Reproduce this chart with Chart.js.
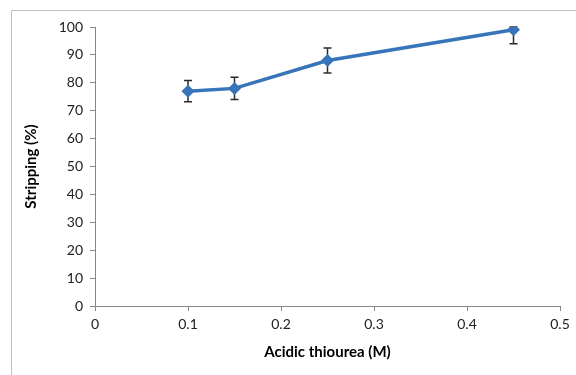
<!DOCTYPE html>
<html>
<head>
<meta charset="utf-8">
<script src="https://cdn.jsdelivr.net/npm/chart.js@4.4.1/dist/chart.umd.min.js"></script>
<style>
  html, body { margin: 0; padding: 0; background: #fff; }
  #wrap { width: 576px; height: 375px; position: relative; }
</style>
</head>
<body>
<div id="wrap"><canvas id="c" width="576" height="375"></canvas></div>
<script>
const concentrations = [0.1, 0.15, 0.25, 0.45];
const stripping = [77, 78, 88, 99];
const errorsPlus = [3.8, 4, 4.5, 1];
const errorsMinus = [3.8, 4, 4.5, 5];
const xTicks = [0, 0.1, 0.2, 0.3, 0.4, 0.5];
const yTicks = [0, 10, 20, 30, 40, 50, 60, 70, 80, 90, 100];

const FONT = 'Lato, "Open Sans", sans-serif';
const AXIS_COLOR = '#868686';

const frame = {
  id: 'frame',
  beforeDraw(chart) {
    const ctx = chart.ctx;
    ctx.save();
    ctx.strokeStyle = '#bfbfbf';
    ctx.lineWidth = 1;
    ctx.beginPath();
    ctx.moveTo(11.5, 375);
    ctx.lineTo(11.5, 10.5);
    ctx.lineTo(576, 10.5);
    ctx.stroke();
    ctx.restore();
  }
};

const errorBars = {
  id: 'errorBars',
  beforeDatasetsDraw(chart) {
    const ctx = chart.ctx;
    const xs = chart.scales.x, ys = chart.scales.y;
    ctx.save();
    ctx.strokeStyle = '#2b2b2b';
    ctx.lineWidth = 1.5;
    concentrations.forEach((c, i) => {
      const x = xs.getPixelForValue(c);
      const yt = ys.getPixelForValue(stripping[i] + errorsPlus[i]);
      const yb = ys.getPixelForValue(stripping[i] - errorsMinus[i]);
      ctx.beginPath();
      ctx.moveTo(x, yt); ctx.lineTo(x, yb);
      ctx.moveTo(x - 4, yt); ctx.lineTo(x + 4, yt);
      ctx.moveTo(x - 4, yb); ctx.lineTo(x + 4, yb);
      ctx.stroke();
    });
    ctx.restore();
  }
};

new Chart(document.getElementById('c'), {
  type: 'line',
  data: {
    datasets: [{
      data: concentrations.map((c, i) => ({ x: c, y: stripping[i] })),
      borderColor: '#3874b9',
      backgroundColor: '#3874b9',
      borderWidth: 3.5,
      pointStyle: 'rectRot',
      pointRadius: 6.5,
      pointBorderWidth: 0,
      tension: 0
    }]
  },
  options: {
    responsive: false,
    animation: false,
    devicePixelRatio: 1,
    layout: { padding: { left: 0, top: 27, right: 16, bottom: 0 } },
    plugins: { legend: { display: false }, tooltip: { enabled: false } },
    scales: {
      x: {
        type: 'linear',
        min: 0, max: 0.5,
        afterBuildTicks(scale) { scale.ticks = xTicks.map(v => ({ value: v })); },
        afterFit(scale) { scale.height = 69; },
        grid: { drawOnChartArea: false, drawTicks: true, tickLength: 5, color: AXIS_COLOR },
        border: { color: AXIS_COLOR, width: 1 },
        ticks: { color: '#222', font: { family: FONT, size: 14 }, padding: 5, maxRotation: 0,
          callback: v => String(v) },
        title: { display: true, text: 'Acidic thiourea (M)', color: '#000',
          font: { family: FONT, size: 15, weight: 'bold' }, padding: { top: 0, bottom: 14 } }
      },
      y: {
        min: 0, max: 100,
        afterBuildTicks(scale) { scale.ticks = yTicks.map(v => ({ value: v })); },
        afterFit(scale) { scale.width = 95; },
        grid: { drawOnChartArea: false, drawTicks: true, tickLength: 5, color: AXIS_COLOR },
        border: { color: AXIS_COLOR, width: 1 },
        ticks: { color: '#222', font: { family: FONT, size: 14 }, padding: 7 },
        title: { display: true, text: 'Stripping (%)', color: '#000',
          font: { family: FONT, size: 15, weight: 'bold' }, padding: { top: 22, bottom: 0 } }
      }
    }
  },
  plugins: [frame, errorBars]
});
</script>
</body>
</html>
